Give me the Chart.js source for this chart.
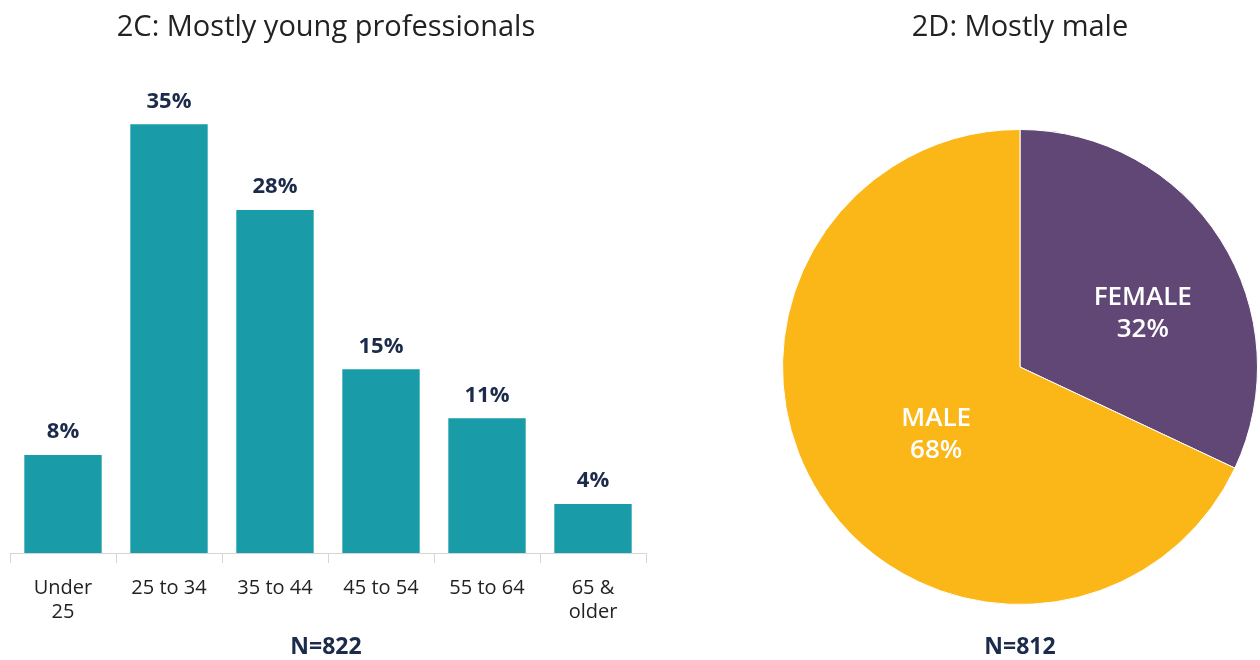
<!DOCTYPE html>
<html lang="en">
  <head>
    <meta charset="UTF-8" />
    <title>2C / 2D</title>
    <script src="https://cdn.jsdelivr.net/npm/chart.js@4"></script>
    <style>
      body { margin: 0; background: #fff; font-family: 'Open Sans', Lato, sans-serif; }
      #wrap { position: relative; width: 1260px; height: 660px; overflow: hidden; }
      canvas { position: absolute; top: 0; }
      .txt { position: absolute; transform: translate(-50%, -50%); white-space: nowrap; }
      .title { font-size: 29px; color: #222; }
      .n { font-size: 23px; font-weight: bold; color: #1c2b4b; }
    </style>
  </head>
  <body>
    <div id="wrap">
      <canvas id="ageChart" width="660" height="660" style="left:0"></canvas>
      <canvas id="genderChart" width="480" height="660" style="left:780px"></canvas>
      <div class="txt title" style="left:326px; top:24px">2C: Mostly young professionals</div>
      <div class="txt title" style="left:1020px; top:24px">2D: Mostly male</div>
      <div class="txt n" style="left:326px; top:645px">N=822</div>
      <div class="txt n" style="left:1020px; top:645px">N=812</div>
    </div>

    <script>
      // age groups (2C)
      const ageLabels = [['Under', '25'], '25 to 34', '35 to 44', '45 to 54', '55 to 64', ['65 &', 'older']];
      const agePct = [8, 35, 28, 15, 11, 4];

      // gender (2D)
      const genderLabels = ['FEMALE', 'MALE'];
      const genderPct = [32, 68];

      const barLabels = {
        id: 'barLabels',
        afterDatasetsDraw(chart) {
          const ctx = chart.ctx;
          const meta = chart.getDatasetMeta(0);
          ctx.save();
          ctx.font = 'bold 22px "Open Sans"';
          ctx.fillStyle = '#1c2b4b';
          ctx.textAlign = 'center';
          ctx.textBaseline = 'middle';
          meta.data.forEach((bar, i) => {
            ctx.fillText(agePct[i] + '%', bar.x, bar.y - 23);
          });
          ctx.restore();
        }
      };

      const pieLabels = {
        id: 'pieLabels',
        afterDatasetsDraw(chart, args, opts) {
          const ctx = chart.ctx;
          const meta = chart.getDatasetMeta(0);
          ctx.save();
          ctx.font = '600 26px "Open Sans"';
          ctx.fillStyle = '#fff';
          ctx.textAlign = 'center';
          ctx.textBaseline = 'middle';
          meta.data.forEach((arc, i) => {
            const off = opts.offsets[i];
            const x = arc.x + off[0] * arc.outerRadius;
            const y = arc.y + off[1] * arc.outerRadius;
            ctx.fillText(genderLabels[i], x, y - 16);
            ctx.fillText(genderPct[i] + '%', x, y + 16);
          });
          ctx.restore();
        }
      };

      new Chart(document.getElementById('ageChart'), {
        type: 'bar',
        data: {
          labels: ageLabels,
          datasets: [{
            data: agePct,
            backgroundColor: '#1a9ca8',
            barPercentage: 0.73,
            categoryPercentage: 1
          }]
        },
        options: {
          responsive: false,
          animation: false,
          layout: { padding: { left: 10, right: 14, top: 63, bottom: 0 } },
          plugins: { legend: { display: false }, tooltip: { enabled: false } },
          scales: {
            y: { display: false, min: 0, max: 40 },
            x: {
              border: { display: true, color: '#d6d6d6', width: 1 },
              grid: { drawOnChartArea: false, color: '#d6d6d6', tickLength: 10, offset: true },
              ticks: {
                color: '#222',
                padding: 13,
                maxRotation: 0,
                font: { family: 'Open Sans', size: 20, lineHeight: 1.2 }
              },
              afterFit(scale) { scale.height = 107; }
            }
          }
        },
        plugins: [barLabels]
      });

      new Chart(document.getElementById('genderChart'), {
        type: 'pie',
        data: {
          labels: genderLabels,
          datasets: [{
            data: genderPct,
            backgroundColor: ['#604776', '#fbb617'],
            borderColor: '#ffffff',
            borderWidth: 1
          }]
        },
        options: {
          responsive: false,
          animation: false,
          layout: { padding: { top: 129, bottom: 55, left: 0, right: 0 } },
          plugins: {
            legend: { display: false },
            tooltip: { enabled: false },
            pieLabels: { offsets: [[0.517, -0.223], [-0.353, 0.286]] }
          }
        },
        plugins: [pieLabels]
      });
    </script>
  </body>
</html>
